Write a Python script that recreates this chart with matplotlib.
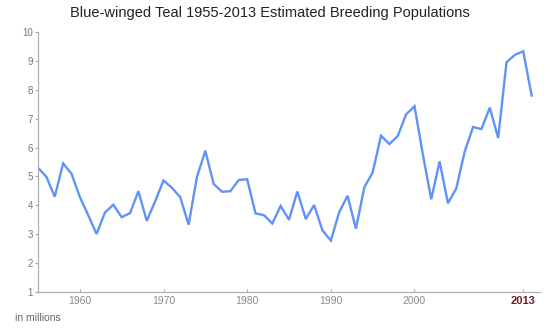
import matplotlib
matplotlib.use('Agg')
import matplotlib.pyplot as plt

# Blue-winged Teal breeding population estimates (millions)
years = list(range(1955, 2015))
population = [
    5.30, 4.99, 4.30, 5.45, 5.10, 4.29, 3.66, 3.01, 3.75, 4.02,
    3.59, 3.73, 4.49, 3.46, 4.14, 4.86, 4.61, 4.28, 3.33, 4.98,
    5.89, 4.74, 4.47, 4.49, 4.88, 4.90, 3.72, 3.66, 3.37, 3.98,
    3.50, 4.48, 3.53, 4.01, 3.13, 2.78, 3.76, 4.33, 3.19, 4.62,
    5.14, 6.41, 6.12, 6.40, 7.15, 7.43, 5.76, 4.21, 5.52, 4.07,
    4.59, 5.86, 6.71, 6.64, 7.38, 6.33, 8.95, 9.21, 9.33, 7.80,
]
x_ticks = [1960, 1970, 1980, 1990, 2000]
y_ticks = list(range(1, 11))
highlight_year = 2013

plt.rcParams['font.family'] = ['Liberation Sans', 'DejaVu Sans']

fig = plt.figure(figsize=(5.5, 3.28), dpi=100)
ax = fig.add_axes([0.0691, 0.1098, 0.9127, 0.7926])

ax.plot(years, population, color='#5f93f7', linewidth=1.7, solid_joinstyle='miter')

ax.set_xlim(1955, 2015)
ax.set_ylim(1, 10)

ax.set_yticks(y_ticks)
ax.set_yticklabels([str(v) for v in y_ticks])
ax.tick_params(axis='y', direction='out', length=2.5, width=0.8, color='#aaaaaa',
               labelcolor='#777777', labelsize=7, pad=1)

ax.set_xticks(x_ticks + [highlight_year])
ax.set_xticklabels([str(v) for v in x_ticks] + [str(highlight_year)])
ax.tick_params(axis='x', direction='in', length=2, width=0.8, color='#aaaaaa',
               labelcolor='#888888', labelsize=7.5, pad=3)
lbl = ax.get_xticklabels()[-1]
lbl.set_color('#7a1c1c')
lbl.set_fontweight('bold')
lbl.set_fontsize(8)

for side in ['top', 'right']:
    ax.spines[side].set_visible(False)
for side in ['left', 'bottom']:
    ax.spines[side].set_color('#b0b0b0')
    ax.spines[side].set_linewidth(0.9)

fig.text(0.491, 0.96, 'Blue-winged Teal 1955-2013 Estimated Breeding Populations',
         ha='center', va='center', fontsize=10.5, color='#222222')
fig.text(0.027, 0.03, 'in millions', ha='left', va='center', fontsize=7.5, color='#666666')

fig.savefig('out.png', dpi=100)
